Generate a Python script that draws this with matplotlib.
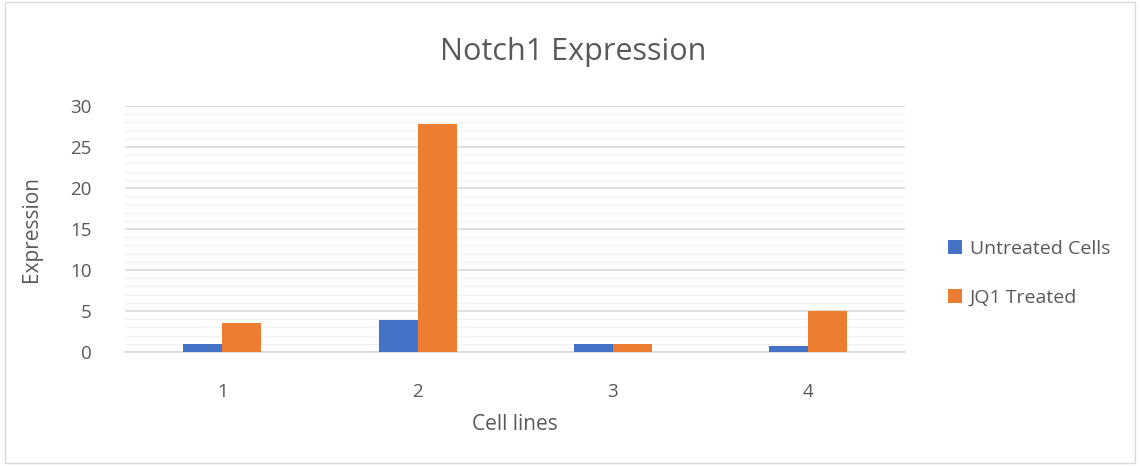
import numpy as np
import matplotlib.pyplot as plt
from matplotlib.patches import Rectangle

# Notch1 expression per cell line
cell_lines = ["1", "2", "3", "4"]
untreated = [1.0, 3.9, 1.0, 0.75]
jq1_treated = [3.5, 27.8, 1.0, 5.0]

blue = "#4472c4"
orange = "#ed7d31"
text_gray = "#595959"

plt.rcParams['font.family'] = ['Open Sans', 'DejaVu Sans']

fig = plt.figure(figsize=(11.4, 4.66), dpi=100)
fig.patches.append(Rectangle((0.004, 0.006), 0.992, 0.99, transform=fig.transFigure,
                             fill=False, edgecolor="#d9d9d9", linewidth=1))

ax = fig.add_axes([0.1096, 0.2446, 0.6844, 0.5279])

x = np.arange(len(cell_lines))
w = 0.2
ax.bar(x - w / 2, untreated, w, color=blue, label="Untreated Cells", zorder=3)
ax.bar(x + w / 2, jq1_treated, w, color=orange, label="JQ1 Treated", zorder=3)

ax.set_xlim(-0.5, len(cell_lines) - 0.5)
ax.set_ylim(0, 30)
ax.set_yticks(np.arange(0, 31, 5))
ax.set_yticks(np.arange(0, 31, 1), minor=True)
ax.set_xticks(x)
ax.set_xticklabels(cell_lines)

ax.grid(axis="y", which="major", color="#d9d9d9", linewidth=1.2, zorder=0)
ax.grid(axis="y", which="minor", color="#f2f2f2", linewidth=1.0, zorder=0)
ax.set_axisbelow(True)

for s in ["top", "right", "left"]:
    ax.spines[s].set_visible(False)
ax.spines["bottom"].set_color("#d9d9d9")
ax.spines["bottom"].set_linewidth(1.2)

ax.tick_params(axis="both", which="both", length=0, colors=text_gray, labelsize=13.5)
ax.tick_params(axis="y", pad=24)
ax.tick_params(axis="x", pad=22)

ax.set_xlabel("Cell lines", fontsize=15, color=text_gray, labelpad=10)
ax.set_ylabel("Expression", fontsize=15, color=text_gray, labelpad=20)
fig.text(0.503, 0.888, "Notch1 Expression", ha="center", va="center",
         fontsize=22, color=text_gray)

ax.legend(loc="center left", bbox_to_anchor=(1.033, 0.319), frameon=False,
          fontsize=14, labelcolor=text_gray, handlelength=0.7, handleheight=0.7,
          handletextpad=0.4, labelspacing=1.6)

fig.savefig("out.png", dpi=100)
